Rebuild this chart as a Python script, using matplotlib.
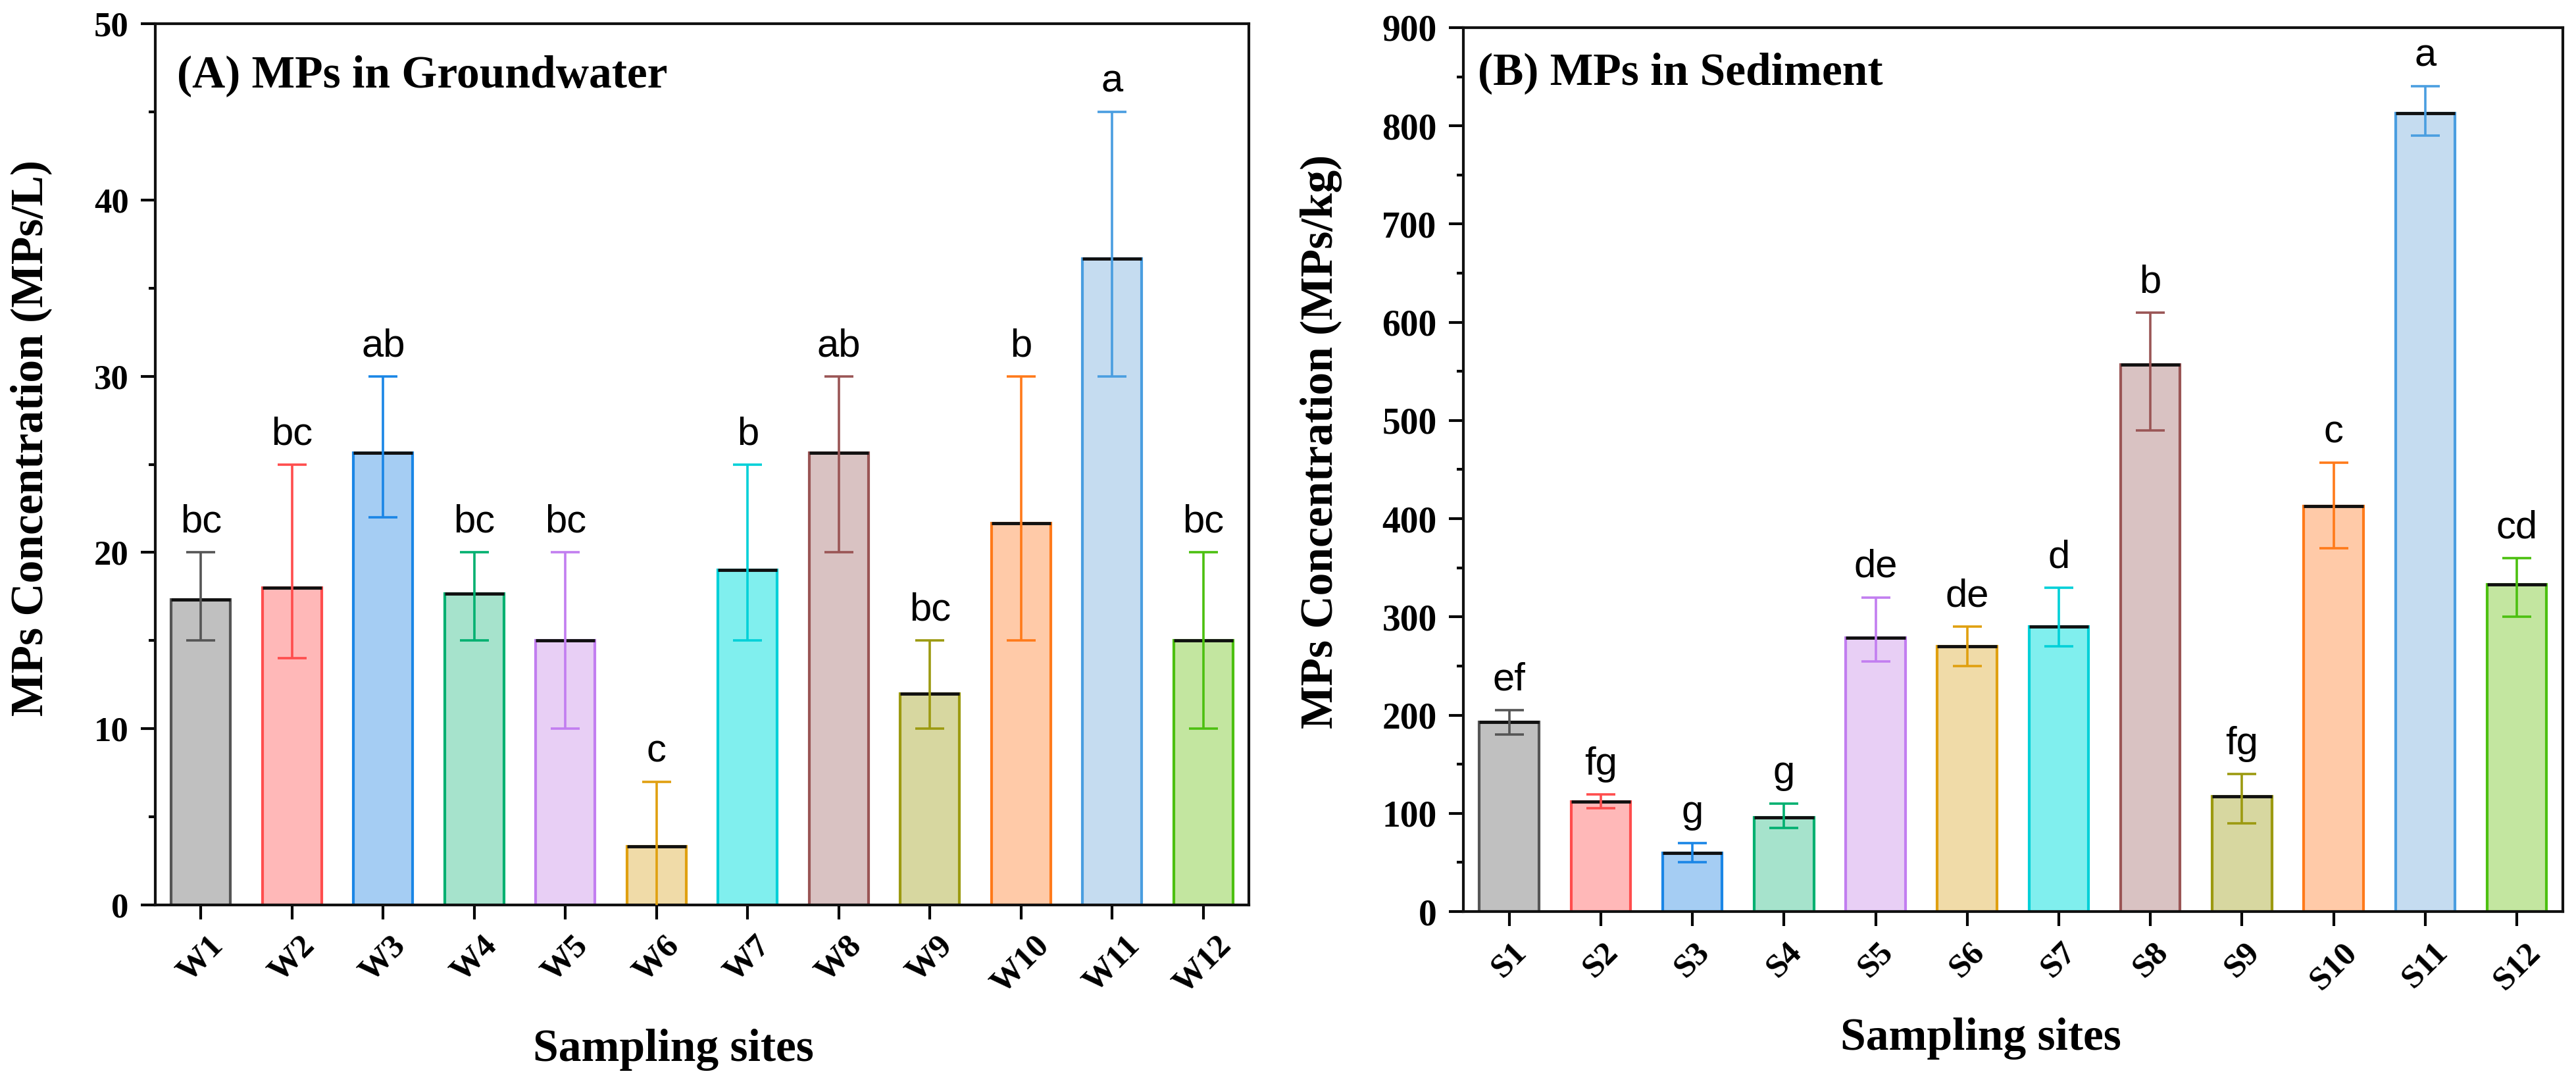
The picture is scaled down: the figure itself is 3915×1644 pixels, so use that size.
import matplotlib
matplotlib.use("Agg")
import matplotlib.pyplot as plt
from matplotlib.ticker import MultipleLocator
import numpy as np

SERIF = ["Liberation Serif", "DejaVu Serif"]
SANS = ["Liberation Sans", "DejaVu Sans"]

# (A) groundwater
gw_sites = ["W1", "W2", "W3", "W4", "W5", "W6", "W7", "W8", "W9", "W10", "W11", "W12"]
gw_mean = [17.33, 18.0, 25.67, 17.67, 15.0, 3.33, 19.0, 25.67, 12.0, 21.67, 36.67, 15.0]
gw_low = [15, 14, 22, 15, 10, -0.33, 15, 20, 10, 15, 30, 10]
gw_high = [20, 25, 30, 20, 20, 7, 25, 30, 15, 30, 45, 20]
gw_letters = ["bc", "bc", "ab", "bc", "bc", "c", "b", "ab", "bc", "b", "a", "bc"]

# (B) sediment
sd_sites = ["S1", "S2", "S3", "S4", "S5", "S6", "S7", "S8", "S9", "S10", "S11", "S12"]
sd_mean = [193, 112, 60, 96, 279, 270, 290, 557, 117, 413, 813, 333]
sd_low = [180, 105, 50, 85, 255, 250, 270, 490, 90, 370, 790, 300]
sd_high = [205, 119, 70, 110, 320, 290, 330, 610, 140, 457, 840, 360]
sd_letters = ["ef", "fg", "g", "g", "de", "de", "d", "b", "fg", "c", "a", "cd"]

edge_colors = ["#555555", "#ff4d4d", "#1a86e6", "#00b070", "#c27ef0", "#e0a010",
               "#00d0d8", "#9a5555", "#9c9a10", "#ff7a1a", "#4a9ee0", "#4cc010"]
fill_colors = ["#c0c0c0", "#ffb8b8", "#a5cdf3", "#a6e3cc", "#e8cff5", "#f0dba8",
               "#80efee", "#d9c2c2", "#d7d7a0", "#ffcaa8", "#c5dcf0", "#c3e6a0"]


def draw_panel(ax, sites, mean, low, high, letters, title, ylabel, ymax, major, minor,
               title_xy, ylab_xy, xlab_xy, tick_fs):
    x = np.arange(1, len(sites) + 1)
    mean = np.array(mean, dtype=float)
    err = np.vstack([mean - np.array(low), np.array(high) - mean])
    width = 0.65

    ax.bar(x, mean, width=width, color=fill_colors, edgecolor=edge_colors,
           linewidth=3, zorder=2)
    ax.hlines(mean, x - width / 2, x + width / 2, colors="#111111", linewidth=3.5, zorder=3)
    for i in range(len(x)):
        ax.errorbar(x[i], mean[i], yerr=err[:, i:i + 1], fmt="none",
                    ecolor=edge_colors[i], elinewidth=2.6, capsize=16, capthick=2.6, zorder=4)
        ax.annotate(letters[i], xy=(x[i], high[i]), xytext=(0, 22),
                    textcoords="offset points", ha="center", va="baseline",
                    fontsize=43, family=SANS, color="black")

    ax.set_xlim(0.5, len(sites) + 0.5)
    ax.set_ylim(0, ymax)
    ax.yaxis.set_major_locator(MultipleLocator(major))
    ax.yaxis.set_minor_locator(MultipleLocator(minor))
    ax.set_xticks(x)
    ax.set_xticklabels(sites, rotation=45, ha="center", va="top",
                       fontsize=37, fontweight="bold", family=SERIF)
    for lab in ax.get_yticklabels():
        lab.set_fontsize(tick_fs)
        lab.set_fontweight("bold")
        lab.set_family(SERIF)

    ax.tick_params(axis="y", which="major", direction="out", length=16, width=3, pad=13)
    ax.tick_params(axis="y", which="minor", direction="out", length=7, width=3)
    ax.tick_params(axis="x", which="major", direction="out", length=16, width=3, pad=12)
    ax.tick_params(top=False, right=False)
    for sp in ax.spines.values():
        sp.set_linewidth(3)
        sp.set_color("#111111")

    ax.text(title_xy[0], title_xy[1], title, transform=ax.transAxes, ha="left",
            va="baseline", fontsize=50, fontweight="bold", family=SERIF)
    ax.set_ylabel(ylabel, fontsize=50, fontweight="bold", family=SERIF)
    ax.yaxis.label.set_va("center")
    ax.yaxis.set_label_coords(*ylab_xy)
    ax.set_xlabel("Sampling sites", fontsize=50, fontweight="bold", family=SERIF)
    ax.xaxis.label.set_va("center")
    ax.xaxis.set_label_coords(*xlab_xy)


fig = plt.figure(figsize=(39.16, 16.44), dpi=100)
fig.set_facecolor("white")
ax_a = fig.add_axes([0.0603, 0.1636, 0.4244, 0.8144])
ax_b = fig.add_axes([0.5679, 0.1575, 0.4267, 0.8170])

draw_panel(ax_a, gw_sites, gw_mean, gw_low, gw_high, gw_letters,
           "(A) MPs in Groundwater", "MPs Concentration (MPs/L)", 50, 10, 5,
           (0.02, 0.928), (-0.114, 0.53), (0.474, -0.164), 38)
draw_panel(ax_b, sd_sites, sd_mean, sd_low, sd_high, sd_letters,
           "(B) MPs in Sediment", "MPs Concentration (MPs/kg)", 900, 100, 50,
           (0.013, 0.936), (-0.129, 0.532), (0.471, -0.144), 40)

fig.savefig("out.png", dpi=100, facecolor="white")
